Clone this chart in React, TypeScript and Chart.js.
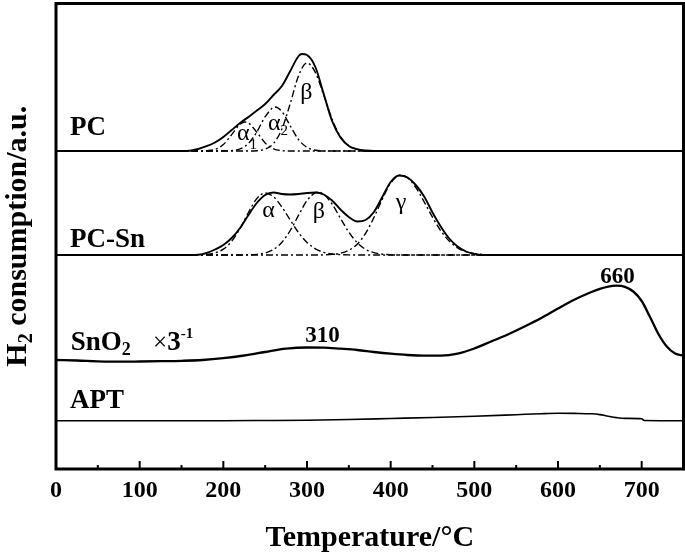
import React, { useEffect, useRef } from "react";
import { Chart, registerables } from "chart.js";
Chart.register(...registerables);

const FONT = "'Liberation Serif', 'Times New Roman', serif";

// x axis
const xTickValues = [0, 100, 200, 300, 400, 500, 600, 700];
const xMinorTickValues = [50, 150, 250, 350, 450, 550, 650];
const xMin = 0;
const xMax = 750;
const yMin = 0;
const yMax = 465.5;

// vertical offsets of the stacked traces (a.u.)
const basePC = 318;
const basePCSn = 214;

// PC (measured, solid)
const pcT = [0, 150, 160, 170, 180, 190, 200, 210, 220, 230, 240, 250, 260, 270, 280, 290, 294, 300, 310, 320, 330, 340, 350, 360, 370, 380, 750];
const pcH = [0, 0, 0.3, 2, 4.8, 8.5, 14, 21, 28, 34, 40.5, 47, 56, 65, 80, 95, 97, 96, 84, 57, 30, 13.5, 5, 1.8, 0.5, 0, 0];
// PC fitted components (dash-dot)
const pcA1T = [0, 170, 180, 190, 200, 210, 220, 226, 230, 240, 250, 260, 270, 280, 750];
const pcA1H = [0, 0, 0.3, 1.6, 6.5, 16.4, 26.8, 29, 28, 18.8, 8.1, 2.2, 0.4, 0, 0];
const pcA2T = [0, 200, 210, 220, 230, 240, 250, 262, 270, 280, 290, 300, 310, 320, 330, 750];
const pcA2H = [0, 0, 0.4, 2.1, 7.5, 19, 34.3, 44, 39.4, 25.1, 11.3, 3.6, 0.8, 0.1, 0, 0];
const pcBT = [0, 230, 240, 250, 260, 270, 280, 290, 300, 310, 320, 330, 340, 350, 360, 370, 380, 750];
const pcBH = [0, 0, 0.3, 1.8, 7.5, 22, 47.5, 75.4, 88, 78.6, 55.9, 31.7, 14.4, 5.2, 1.5, 0.3, 0, 0];

// PC-Sn (measured, solid)
const pcsnT = [0, 160, 170, 180, 190, 200, 210, 220, 230, 240, 250, 260, 270, 280, 290, 300, 310, 320, 330, 340, 350, 360, 370, 380, 390, 400, 410, 420, 430, 440, 450, 460, 470, 480, 490, 500, 510, 750];
const pcsnH = [0, 0, 0.2, 2, 5.5, 10, 17, 27, 40, 52, 60, 62.5, 61, 60.5, 61, 62, 62.5, 60.5, 54.5, 45.5, 38, 33.5, 35, 43, 58, 73, 79.5, 77.5, 70, 58.5, 42.5, 28.3, 16.5, 8.5, 3.5, 1, 0, 0];
// PC-Sn fitted components (dash-dot)
const pcsnAT = [0, 160, 170, 180, 190, 200, 210, 220, 230, 240, 250, 260, 270, 280, 290, 300, 310, 320, 330, 340, 350, 360, 750];
const pcsnAH = [0, 0, 0.1, 0.6, 2.1, 5.8, 13.7, 26.5, 42.5, 56.4, 62, 58.2, 48, 34.9, 22.3, 12.6, 6.2, 2.7, 1, 0.4, 0.1, 0, 0];
const pcsnBT = [0, 220, 230, 240, 250, 260, 270, 280, 290, 300, 313, 320, 330, 340, 350, 360, 370, 380, 390, 400, 410, 750];
const pcsnBH = [0, 0, 0.2, 0.6, 2, 5.5, 12.7, 24.5, 39.8, 54.4, 63, 60.7, 50.9, 36.7, 22.9, 12.3, 5.7, 2.3, 0.8, 0.2, 0, 0];
const pcsnGT = [0, 310, 320, 330, 340, 350, 360, 370, 380, 390, 400, 412, 420, 430, 440, 450, 460, 470, 480, 490, 500, 510, 520, 530, 750];
const pcsnGH = [0, 0, 0.15, 0.6, 1.7, 4.7, 10.8, 21.7, 37.5, 55.9, 71.9, 80, 77.4, 67.6, 53.2, 37.8, 24.1, 13.9, 7.2, 3.4, 1.4, 0.5, 0.2, 0, 0];

// SnO2 x 3^-1 (absolute a.u.)
const sno2T = [0, 25, 50, 75, 100, 125, 150, 175, 200, 225, 250, 275, 300, 320, 340, 360, 380, 400, 420, 440, 460, 480, 500, 520, 540, 560, 580, 600, 620, 640, 660, 670, 680, 690, 700, 710, 720, 730, 740, 750];
const sno2V = [109, 108.5, 107.7, 107.3, 107.5, 107.8, 108.2, 109, 110.8, 113.5, 117, 120.3, 121.5, 121.4, 120.3, 119, 117, 115.3, 114, 113.4, 113.4, 115.3, 120.5, 127.5, 134.5, 142.5, 151, 160.5, 169.5, 177, 182.3, 183.3, 182.2, 177.5, 168, 152, 135, 122.5, 115.5, 113.3];

// APT (absolute a.u.)
const aptT = [0, 100, 200, 250, 300, 350, 400, 450, 500, 550, 580, 600, 620, 640, 650, 660, 670, 680, 700, 703, 750];
const aptV = [48.3, 48.3, 48.3, 48.5, 48.8, 49.5, 50.5, 51.5, 52.7, 54.3, 55.3, 55.7, 55.6, 55.2, 54.4, 52.8, 51.4, 50.6, 50.3, 48.5, 48.3];

type Run = { t: string; size: number; bold?: boolean; dy?: number };
type Label = { runs: Run[]; x: number; y: number; align: "left" | "center" };

const labels: Label[] = [
  { runs: [{ t: "PC", size: 27, bold: true }], x: 16.7, y: 334, align: "left" },
  { runs: [{ t: "PC-Sn", size: 27, bold: true }], x: 16.7, y: 222, align: "left" },
  { runs: [{ t: "SnO", size: 27, bold: true }, { t: "2", size: 18, bold: true, dy: 5 }], x: 17.5, y: 119, align: "left" },
  { runs: [{ t: "×", size: 25 }, { t: "3", size: 27, bold: true }, { t: "-1", size: 15, bold: true, dy: -12 }], x: 116, y: 119, align: "left" },
  { runs: [{ t: "APT", size: 27, bold: true }], x: 16.7, y: 61, align: "left" },
  { runs: [{ t: "310", size: 23, bold: true }], x: 318.5, y: 127, align: "center" },
  { runs: [{ t: "660", size: 23, bold: true }], x: 671, y: 186, align: "center" },
  { runs: [{ t: "α", size: 24 }, { t: "1", size: 15, dy: 9 }], x: 216.3, y: 329, align: "left" },
  { runs: [{ t: "α", size: 24 }, { t: "2", size: 15, dy: 5 }], x: 253.3, y: 339, align: "left" },
  { runs: [{ t: "β", size: 24 }], x: 299.3, y: 370, align: "center" },
  { runs: [{ t: "α", size: 24 }], x: 254, y: 252, align: "center" },
  { runs: [{ t: "β", size: 24 }], x: 314.3, y: 251, align: "center" },
  { runs: [{ t: "γ", size: 24 }], x: 412.3, y: 260, align: "center" },
];

const xTitle = "Temperature/°C";

function pts(t: number[], h: number[], off: number) {
  return t.map((v, i) => ({ x: v, y: h[i] + off }));
}

function fontStr(r: Run) {
  return `${r.bold ? "bold " : ""}${r.size}px ${FONT}`;
}

function drawRuns(ctx: CanvasRenderingContext2D, runs: Run[], x: number, y: number, align: string) {
  let total = 0;
  runs.forEach((r) => {
    ctx.font = fontStr(r);
    total += ctx.measureText(r.t).width;
  });
  let cx = align === "center" ? x - total / 2 : x;
  ctx.textAlign = "left";
  ctx.textBaseline = "alphabetic";
  runs.forEach((r) => {
    ctx.font = fontStr(r);
    ctx.fillText(r.t, cx, y + (r.dy || 0));
    cx += ctx.measureText(r.t).width;
  });
}

const decorPlugin = {
  id: "decor",
  afterDraw(chart: any) {
    const { ctx, chartArea, scales } = chart;
    const { left, right, top, bottom } = chartArea;
    const xs = scales.x;
    const ys = scales.y;
    ctx.save();
    ctx.fillStyle = "#000";
    ctx.strokeStyle = "#000";
    // inward ticks
    ctx.lineWidth = 2;
    xTickValues.forEach((v) => {
      const px = xs.getPixelForValue(v);
      ctx.beginPath();
      ctx.moveTo(px, bottom);
      ctx.lineTo(px, bottom - 8);
      ctx.stroke();
    });
    xMinorTickValues.forEach((v) => {
      const px = xs.getPixelForValue(v);
      ctx.beginPath();
      ctx.moveTo(px, bottom);
      ctx.lineTo(px, bottom - 4);
      ctx.stroke();
    });
    // frame
    ctx.lineWidth = 3;
    ctx.strokeRect(left, top, right - left, bottom - top);
    // labels
    labels.forEach((l) => {
      drawRuns(ctx, l.runs, xs.getPixelForValue(l.x), ys.getPixelForValue(l.y), l.align);
    });
    // x title
    drawRuns(ctx, [{ t: xTitle, size: 30, bold: true }], (left + right) / 2, 546, "center");
    // y title (rotated)
    const yRuns: Run[] = [
      { t: "H", size: 30, bold: true },
      { t: "2", size: 20, bold: true, dy: 6 },
      { t: " consumption/a.u.", size: 30, bold: true },
    ];
    let total = 0;
    yRuns.forEach((r) => {
      ctx.font = fontStr(r);
      total += ctx.measureText(r.t).width;
    });
    ctx.translate(25.5, (top + bottom) / 2);
    ctx.rotate(-Math.PI / 2);
    drawRuns(ctx, yRuns, -total / 2, 0, "left");
    ctx.restore();
  },
};

export default function App() {
  const ref = useRef<HTMLCanvasElement>(null);
  useEffect(() => {
    if (!ref.current) return;
    const solid = (data: any[], w: number) => ({
      data,
      borderColor: "#000",
      borderWidth: w,
      pointRadius: 0,
      fill: false,
      cubicInterpolationMode: "monotone" as const,
    });
    const dashed = (data: any[]) => ({
      data,
      borderColor: "#000",
      borderWidth: 1.4,
      borderDash: [7, 3, 2, 3],
      pointRadius: 0,
      fill: false,
      cubicInterpolationMode: "monotone" as const,
    });
    const chart = new Chart(ref.current, {
      type: "line",
      data: {
        datasets: [
          dashed(pts(pcA1T, pcA1H, basePC)),
          dashed(pts(pcA2T, pcA2H, basePC)),
          dashed(pts(pcBT, pcBH, basePC)),
          solid(pts(pcT, pcH, basePC), 1.9),
          dashed(pts(pcsnAT, pcsnAH, basePCSn)),
          dashed(pts(pcsnBT, pcsnBH, basePCSn)),
          dashed(pts(pcsnGT, pcsnGH, basePCSn)),
          solid(pts(pcsnT, pcsnH, basePCSn), 1.9),
          solid(pts(sno2T, sno2V, 0), 2.3),
          solid(pts(aptT, aptV, 0), 1.6),
        ],
      },
      options: {
        animation: false,
        responsive: false,
        devicePixelRatio: 1,
        layout: { padding: { left: 56, right: 1.5, top: 3.5, bottom: 0 } },
        plugins: { legend: { display: false }, tooltip: { enabled: false }, title: { display: false } },
        scales: {
          x: {
            type: "linear",
            min: xMin,
            max: xMax,
            grid: { display: false, drawTicks: false },
            border: { display: false },
            afterBuildTicks: (s: any) => {
              s.ticks = xTickValues.map((v) => ({ value: v }));
            },
            afterFit: (s: any) => {
              s.height = 84;
            },
            ticks: {
              color: "#000",
              padding: 7,
              maxRotation: 0,
              autoSkip: false,
              font: { family: FONT, size: 24, weight: "bold" },
            },
          },
          y: {
            type: "linear",
            min: yMin,
            max: yMax,
            display: false,
          },
        },
      },
      plugins: [decorPlugin],
    });
    return () => chart.destroy();
  }, []);
  return (
    <div style={{ position: "absolute", left: 0, top: 0, width: 685, height: 553, background: "#fff" }}>
      <canvas ref={ref} width={685} height={553} />
    </div>
  );
}
